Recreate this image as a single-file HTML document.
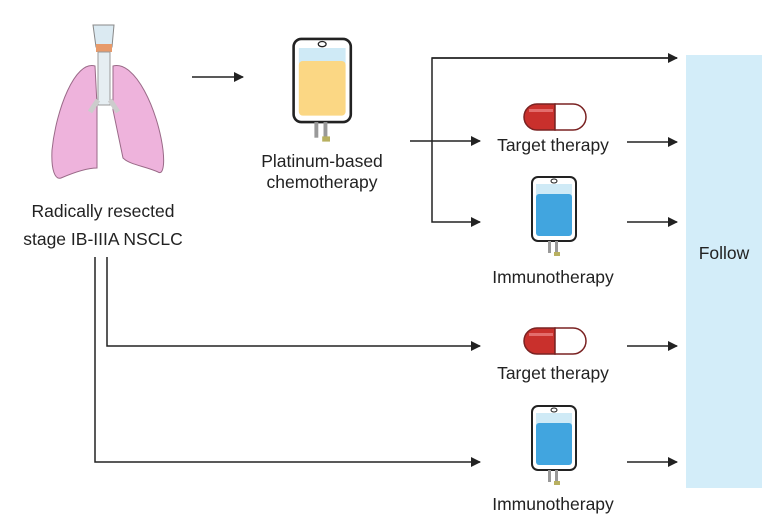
<!DOCTYPE html>
<html><head><meta charset="utf-8"><style>
html,body{margin:0;padding:0;background:#fff;width:780px;height:531px;overflow:hidden}
svg text{font-family:"Liberation Sans",Arial,sans-serif;font-size:17.5px;fill:#222}
</style></head><body>
<svg width="780" height="531" viewBox="0 0 780 531" xmlns="http://www.w3.org/2000/svg">
<defs>
<marker id="a" markerWidth="10" markerHeight="10" refX="9" refY="5" orient="auto" markerUnits="userSpaceOnUse"><path d="M0,0 L10,5 L0,10 z" fill="#222"/></marker>
<g id="bag">
 <rect x="2" y="3" width="44" height="64" rx="6" fill="#fff" stroke="#222" stroke-width="2"/>
 <rect x="6" y="10" width="36" height="12" fill="#cfeaf6"/>
 <rect x="6" y="20" width="36" height="42" rx="3" fill="var(--c)"/>
 <ellipse cx="24" cy="7" rx="3" ry="2" fill="none" stroke="#222"/>
 <rect x="18" y="67" width="3" height="12" fill="#999"/><rect x="25" y="67" width="3" height="12" fill="#999"/>
 <rect x="24" y="78" width="6" height="4" fill="#b8b060"/>
</g>
<g id="pill">
 <path d="M16,0 H34 V26 H16 A13,13 0 0 1 16,0 z" fill="#c9302c" stroke="#7a2222" stroke-width="1.5"/>
 <path d="M34,0 H52 A13,13 0 0 1 52,26 H34 z" fill="#fff" stroke="#7a2222" stroke-width="1.5"/>
 <rect x="8" y="5" width="24" height="3" fill="#e88" opacity=".7"/>
</g>
</defs>
<!-- lungs -->
<path d="M95,66 C75,60 56,110 52,150 C51,170 55,180 61,178 C75,172 88,168 97,168 L97,105 Z" fill="#eeb3dc" stroke="#9a6a88"/>
<path d="M113,66 C135,60 158,110 163,150 C165,168 162,175 158,172 C145,166 130,165 123,158 L113,110 Z" fill="#eeb3dc" stroke="#9a6a88"/>
<path d="M93,25 L114,25 L112,47 L96,47 Z" fill="#dbeaf2" stroke="#888"/>
<rect x="96" y="44" width="16" height="8" fill="#e79a6a"/>
<rect x="98" y="52" width="12" height="53" fill="#e6eef2" stroke="#999"/>
<path d="M98,100 L90,112 M110,100 L118,112" stroke="#ccc" stroke-width="5"/>
<!-- texts -->
<text x="103" y="217" text-anchor="middle">Radically resected</text>
<text x="103" y="245" text-anchor="middle">stage IB-IIIA NSCLC</text>
<use href="#bag" style="--c:#fbd784" transform="translate(291,35) scale(1.3)"/>
<text x="322" y="167" text-anchor="middle">Platinum-based</text>
<text x="322" y="188" text-anchor="middle">chemotherapy</text>
<use href="#pill" x="521" y="104"/>
<text x="553" y="151" text-anchor="middle">Target therapy</text>
<use href="#bag" x="530" y="174" style="--c:#41a5df"/>
<text x="553" y="283" text-anchor="middle">Immunotherapy</text>
<use href="#pill" x="521" y="328"/>
<text x="553" y="379" text-anchor="middle">Target therapy</text>
<use href="#bag" x="530" y="403" style="--c:#41a5df"/>
<text x="553" y="510" text-anchor="middle">Immunotherapy</text>
<rect x="686" y="55" width="76" height="433" fill="#d3edf9"/>
<text x="724" y="259" text-anchor="middle">Follow</text>
<!-- connectors -->
<g stroke="#222" stroke-width="1.5" fill="none">
<line x1="192" y1="77" x2="243" y2="77" marker-end="url(#a)"/>
<polyline points="677,58 432,58 432,222 480,222" marker-end="url(#a)"/>
<line x1="432" y1="58" x2="677" y2="58" marker-end="url(#a)"/>
<line x1="410" y1="141" x2="480" y2="141" marker-end="url(#a)"/>
<line x1="627" y1="142" x2="677" y2="142" marker-end="url(#a)"/>
<line x1="627" y1="222" x2="677" y2="222" marker-end="url(#a)"/>
<polyline points="107,257 107,346 480,346" marker-end="url(#a)"/>
<polyline points="95,257 95,462 480,462" marker-end="url(#a)"/>
<line x1="627" y1="346" x2="677" y2="346" marker-end="url(#a)"/>
<line x1="627" y1="462" x2="677" y2="462" marker-end="url(#a)"/>
</g>
</svg>
</body></html>
